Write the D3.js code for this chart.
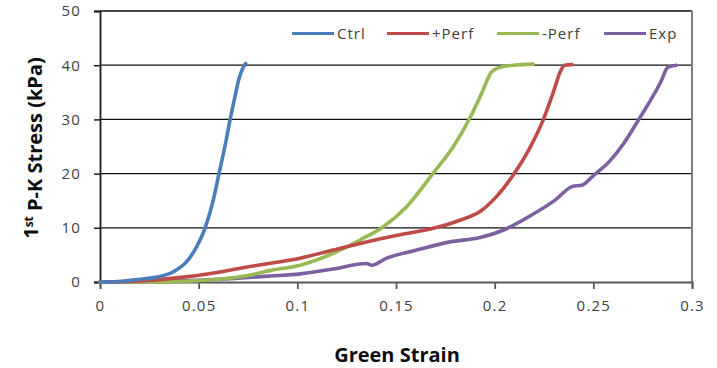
<!DOCTYPE html>
<html>
<head>
<meta charset="utf-8">
<script src="https://cdn.jsdelivr.net/npm/d3@7"></script>
<style>
  html, body { margin: 0; padding: 0; background: #fff; }
  svg { display: block; }
</style>
</head>
<body>
<svg id="chart" width="717" height="368"></svg>
<script>
// Stress–strain curves for the four specimen groups
const seriesNames = ["Ctrl", "+Perf", "-Perf", "Exp"];
const seriesColors = ["#4a7ebb", "#be4b48", "#98b954", "#7d60a0"];

const ctrlStrain = [0, 0.010, 0.0203, 0.0287, 0.0372, 0.0439, 0.049, 0.0532, 0.0574, 0.0603, 0.0633, 0.0659, 0.0684, 0.0705, 0.0722, 0.0738];
const ctrlStress = [0, 0.1, 0.5, 0.9, 1.9, 3.75, 6.5, 9.9, 15.1, 20.0, 25.0, 29.9, 34.2, 37.6, 39.3, 40.3];

const perfPlusStrain = [0, 0.02, 0.04, 0.06, 0.08, 0.1014, 0.1182, 0.1351, 0.152, 0.1689, 0.1824, 0.1926, 0.201, 0.2095, 0.2179, 0.2247, 0.2297, 0.2335, 0.2355, 0.2392];
const perfPlusStress = [0, 0.2, 0.8, 1.8, 3.1, 4.4, 5.9, 7.4, 8.7, 9.9, 11.4, 13.0, 15.8, 19.8, 24.8, 30.0, 35.0, 39.0, 40.0, 40.1];

const perfMinusStrain = [0, 0.02, 0.04, 0.06, 0.075, 0.0862, 0.1014, 0.1182, 0.1318, 0.1436, 0.1554, 0.1689, 0.1791, 0.1875, 0.1934, 0.1985, 0.2027, 0.2095, 0.2196];
const perfMinusStress = [0, 0.0, 0.1, 0.5, 1.2, 2.1, 3.1, 5.3, 7.75, 10.2, 13.9, 20.1, 25.0, 30.3, 34.8, 38.8, 39.6, 40.0, 40.2];

const expStrain = [0, 0.02, 0.04, 0.06, 0.0862, 0.1014, 0.1182, 0.1351, 0.1377, 0.1453, 0.1605, 0.1774, 0.1926, 0.2046, 0.2185, 0.2306, 0.2392, 0.2445, 0.2496, 0.2583, 0.2653, 0.2722, 0.2791, 0.2843, 0.2877, 0.2921];
const expStress = [0, 0.05, 0.2, 0.5, 1.1, 1.5, 2.4, 3.4, 3.1, 4.4, 5.9, 7.4, 8.2, 9.6, 12.3, 15.1, 17.6, 17.9, 19.5, 22.3, 25.5, 29.5, 33.6, 37.0, 39.6, 40.0];

const xTicks = [0, 0.05, 0.1, 0.15, 0.2, 0.25, 0.3];
const xTickLabels = ["0", "0.05", "0.1", "0.15", "0.2", "0.25", "0.3"];
const yTicks = [0, 10, 20, 30, 40, 50];

const svg = d3.select("#chart");
const x = d3.scaleLinear().domain([0, 0.3]).range([100, 692]);
const y = d3.scaleLinear().domain([0, 50]).range([282, 11]);

const labelFont = "'Open Sans', sans-serif";

// horizontal gridlines
svg.append("g").selectAll("line").data(yTicks.filter(d => d > 0)).join("line")
  .attr("x1", x(0)).attr("x2", x(0.3))
  .attr("y1", d => y(d)).attr("y2", d => y(d))
  .attr("stroke", "#111").attr("stroke-width", 1.3);

// right border of the plot area
svg.append("line")
  .attr("x1", x(0.3)).attr("x2", x(0.3)).attr("y1", y(50)).attr("y2", y(0))
  .attr("stroke", "#7f7f7f").attr("stroke-width", 2);

// x axis
const xAxis = d3.axisBottom(x).tickValues(xTicks).tickSize(7).tickFormat((d, i) => xTickLabels[i]);
const gx = svg.append("g").attr("transform", `translate(0,${y(0)})`).call(xAxis);
gx.select(".domain").attr("stroke", "#595959").attr("stroke-width", 1.8);
gx.selectAll(".tick line").attr("stroke", "#595959").attr("stroke-width", 1.8);
gx.selectAll(".tick text")
  .attr("y", 24).attr("dy", "0.32em")
  .attr("fill", "#404040")
  .style("font-family", labelFont).style("font-size", "15px").style("letter-spacing", "1.2px");

// y axis
const yAxis = d3.axisLeft(y).tickValues(yTicks).tickSize(6).tickFormat(d3.format("d"));
const gy = svg.append("g").attr("transform", `translate(${x(0)},0)`).call(yAxis);
gy.select(".domain").attr("stroke", "#1a1a1a").attr("stroke-width", 1.8);
gy.selectAll(".tick line").attr("stroke", "#1a1a1a").attr("stroke-width", 1.5);
gy.selectAll(".tick text")
  .attr("x", -19)
  .attr("fill", "#404040")
  .style("font-family", labelFont).style("font-size", "15px").style("letter-spacing", "1.2px");

// data curves
const line = d3.line().curve(d3.curveMonotoneX).x(d => x(d[0])).y(d => y(d[1]));
const seriesData = [
  d3.zip(ctrlStrain, ctrlStress),
  d3.zip(perfPlusStrain, perfPlusStress),
  d3.zip(perfMinusStrain, perfMinusStress),
  d3.zip(expStrain, expStress)
];
// draw back-to-front so Ctrl sits on top near the origin
[3, 2, 1, 0].forEach(i => {
  svg.append("path")
    .attr("d", line(seriesData[i]))
    .attr("fill", "none")
    .attr("stroke", seriesColors[i])
    .attr("stroke-width", 3.6)
    .attr("stroke-linejoin", "round")
    .attr("stroke-linecap", "round");
});

// legend
const legendX = [292, 387, 497, 604];
const legend = svg.append("g");
seriesNames.forEach((name, i) => {
  legend.append("line")
    .attr("x1", legendX[i]).attr("x2", legendX[i] + 42)
    .attr("y1", 33.5).attr("y2", 33.5)
    .attr("stroke", seriesColors[i]).attr("stroke-width", 3);
  legend.append("text")
    .attr("x", legendX[i] + 45).attr("y", 33.5).attr("dy", "0.35em")
    .attr("fill", "#404040")
    .style("font-family", labelFont).style("font-size", "15px").style("letter-spacing", "1px")
    .text(name);
});

// axis titles
svg.append("text")
  .attr("x", 397).attr("y", 355).attr("dy", "0.35em")
  .attr("text-anchor", "middle")
  .style("font-family", labelFont).style("font-size", "20px").style("font-weight", "bold")
  .attr("fill", "#0d0d0d")
  .text("Green Strain");

const yTitle = svg.append("text")
  .attr("transform", "translate(31,148) rotate(-90)")
  .attr("text-anchor", "middle").attr("dy", "0.35em")
  .style("font-family", labelFont).style("font-size", "20px").style("font-weight", "bold")
  .attr("fill", "#0d0d0d");
yTitle.append("tspan").text("1");
yTitle.append("tspan").attr("dy", "-0.45em").style("font-size", "12px").text("st");
yTitle.append("tspan").attr("dy", "0.45em").text(" P-K Stress (kPa)");
</script>
</body>
</html>
